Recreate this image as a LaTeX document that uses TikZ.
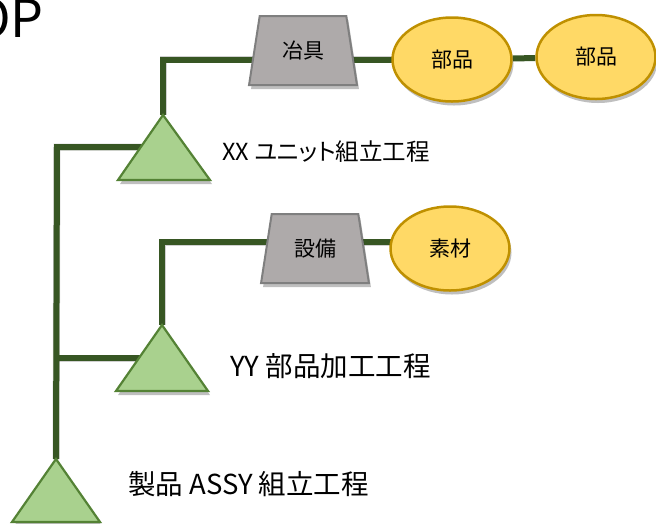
\documentclass[tikz,border=0pt]{standalone}
\usepackage{fontspec}
\setmainfont[RawFeature=+palt]{Noto Sans CJK JP}
\usetikzlibrary{shapes.geometric,shadows,backgrounds}
\definecolor{lineg}{HTML}{375623}
\definecolor{trif}{HTML}{A9D18E}
\definecolor{trid}{HTML}{548235}
\definecolor{grayf}{HTML}{AEAAAA}
\definecolor{grayd}{HTML}{7F7F7F}
\definecolor{yel}{HTML}{FFD966}
\definecolor{yeld}{HTML}{BF9000}
\begin{document}
\begin{tikzpicture}[x=1pt,y=-1pt,
 conn/.style={draw=lineg,line width=6pt},
 connshadow/.style={draw=black,opacity=0.18,line width=7pt,xshift=2pt,yshift=-3pt},
 tri/.style={fill=trif,draw=trid,line width=2.2pt,line join=miter},
 tool/.style={trapezium, trapezium left angle=75, trapezium right angle=75, trapezium stretches=true, minimum width=108pt, minimum height=69pt, fill=grayf, draw=grayd, line width=2pt, inner sep=0pt, font=\fontsize{21}{24}\selectfont},
 part/.style={ellipse, minimum width=119pt, minimum height=84pt, fill=yel, draw=yeld, line width=2.5pt, inner sep=0pt, font=\fontsize{21}{24}\selectfont},
 lbl/.style={anchor=west, inner sep=0pt, font=\fontsize{27.5}{31}\selectfont},
 shd/.style={drop shadow={shadow xshift=2pt,shadow yshift=-4pt,opacity=0.25,fill=black}}
]
\useasboundingbox (0,0) rectangle (656,523);

% title fragment
\node[anchor=base east, inner sep=0pt, font=\fontsize{52}{60}\selectfont] (op) at (44,37) {OP};

% equipment and parts
\node[tool,shd] (jig) at (303,50.5) {冶具};
\node[part,shd] (p1) at (452,59.5) {部品};
\node[part,shd] (p2) at (596,57) {部品};
\node[tool,shd] (eq) at (315,248.5) {設備};
\node[part,shd] (mat) at (450,248.5) {素材};

% triangle apexes and junctions
\coordinate (aXX) at (163,115);
\coordinate (aYY) at (162,325);
\coordinate (aA) at (56,459);
\coordinate (j1) at (57,147);
\coordinate (j2) at (57,358);
\coordinate (cXX) at (163,147);
\coordinate (cYY) at (162,358);
\coordinate (kYY) at (162,242);

% triangles
\path[tri,shd] (aXX) -- (118,180) -- (210,180) -- cycle;
\path[tri,shd] (aYY) -- (116,391) -- (208,391) -- cycle;
\path[tri,shd] (aA) -- (12,522) -- (100,522) -- cycle;

% labels
\node[lbl,font=\fontsize{23.5}{28}\selectfont] (lXX) at (222,152) {XX ユニット組立工程};
\node[lbl] (lYY) at (230,366) {YY 部品加工工程};
\node[lbl] (lA) at (128,484) {製品 ASSY 組立工程};

\begin{scope}[on background layer]
 \draw[connshadow] (aA) -- (j1) -- (cXX);
 \draw[connshadow] (j2) -- (cYY);
 \draw[connshadow] (aXX) |- (p1.center);
 \draw[connshadow] (aYY) -- (kYY) -- (kYY -| mat.center);
 \draw[conn] (aA) -- (j1) -- (cXX);
 \draw[conn] (j2) -- (cYY);
 \draw[conn] (aXX) |- (p1.center);
 \draw[conn] (p1) -- (p2);
 \draw[conn] (aYY) -- (kYY) -- (kYY -| mat.center);
\end{scope}
\end{tikzpicture}
\end{document}
